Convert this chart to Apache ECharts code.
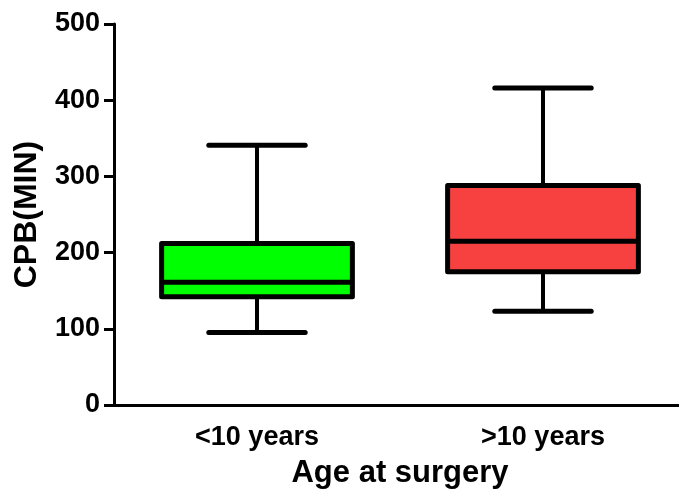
<!DOCTYPE html>
<html>
<head>
<meta charset="utf-8">
<title>CPB by age at surgery</title>
<script src="https://cdn.jsdelivr.net/npm/echarts@6/dist/echarts.min.js"></script>
<style>
  html, body { margin: 0; padding: 0; background: #ffffff; }
  #chart { width: 679px; height: 499px; }
</style>
</head>
<body>
<div id="chart"></div>
<script>
// Cardiopulmonary bypass time (minutes), five-number summary per age group
const categories = ['<10 years', '>10 years'];
const minValues    = [95, 123];
const q1Values     = [142, 175];
const medianValues = [161, 215];
const q3Values     = [212, 288];
const maxValues    = [341, 416];
const boxColors    = ['#00ff00', '#f74141'];
const yTicks       = [0, 100, 200, 300, 400, 500];

const boxData = categories.map((c, i) => [i, minValues[i], q1Values[i], medianValues[i], q3Values[i], maxValues[i]]);

const FONT = '"Liberation Sans", Arial, Helvetica, sans-serif';

function renderBox(params, api) {
  const idx = api.value(0);
  const band = api.size([1, 0])[0];
  const boxW = band * 0.667;
  const capW = band * 0.337;
  const pMin = api.coord([idx, api.value(1)]);
  const pQ1 = api.coord([idx, api.value(2)]);
  const pMed = api.coord([idx, api.value(3)]);
  const pQ3 = api.coord([idx, api.value(4)]);
  const pMax = api.coord([idx, api.value(5)]);
  const cx = pMed[0];
  const lineStyle = { stroke: '#000', lineWidth: 5, lineCap: 'round' };
  return {
    type: 'group',
    children: [
      { type: 'line', shape: { x1: cx, y1: pMax[1], x2: cx, y2: pQ3[1] }, style: { stroke: '#000', lineWidth: 4 } },
      { type: 'line', shape: { x1: cx, y1: pQ1[1], x2: cx, y2: pMin[1] }, style: { stroke: '#000', lineWidth: 4 } },
      { type: 'line', shape: { x1: cx - capW / 2, y1: pMax[1], x2: cx + capW / 2, y2: pMax[1] }, style: lineStyle },
      { type: 'line', shape: { x1: cx - capW / 2, y1: pMin[1], x2: cx + capW / 2, y2: pMin[1] }, style: lineStyle },
      {
        type: 'rect',
        shape: { x: cx - boxW / 2, y: pQ3[1], width: boxW, height: pQ1[1] - pQ3[1] },
        style: { fill: boxColors[idx], stroke: '#000', lineWidth: 5, lineJoin: 'round' }
      },
      { type: 'line', shape: { x1: cx - boxW / 2, y1: pMed[1], x2: cx + boxW / 2, y2: pMed[1] }, style: { stroke: '#000', lineWidth: 5 } }
    ]
  };
}

const chart = echarts.init(document.getElementById('chart'), null, { renderer: 'canvas' });
chart.setOption({
  animation: false,
  backgroundColor: '#ffffff',
  grid: { left: 114, top: 24, width: 572, height: 381, containLabel: false, outerBoundsMode: 'none' },
  xAxis: {
    type: 'category',
    data: categories,
    boundaryGap: true,
    name: 'Age at surgery',
    nameLocation: 'middle',
    nameGap: 53,
    nameTextStyle: { fontFamily: FONT, fontSize: 31, fontWeight: 'bold', color: '#000' },
    axisLine: { lineStyle: { color: '#000', width: 3 } },
    axisTick: { alignWithLabel: true, length: 9, lineStyle: { color: '#000', width: 3 } },
    axisLabel: { fontFamily: FONT, fontSize: 27, fontWeight: 'bold', color: '#000', margin: 19 },
    splitLine: { show: false }
  },
  yAxis: {
    type: 'value',
    min: yTicks[0],
    max: yTicks[yTicks.length - 1],
    interval: yTicks[1] - yTicks[0],
    name: 'CPB(MIN)',
    nameLocation: 'middle',
    nameGap: 71,
    nameTextStyle: { fontFamily: FONT, fontSize: 32, fontWeight: 'bold', color: '#000' },
    axisLine: { show: true, lineStyle: { color: '#000', width: 3 } },
    axisTick: { show: true, length: 10, lineStyle: { color: '#000', width: 3 } },
    axisLabel: { fontFamily: FONT, fontSize: 27, fontWeight: 'bold', color: '#000', margin: 14 },
    splitLine: { show: false }
  },
  series: [{
    type: 'custom',
    renderItem: renderBox,
    encode: { x: 0, y: [1, 2, 3, 4, 5] },
    data: boxData,
    clip: false
  }]
});
</script>
</body>
</html>
